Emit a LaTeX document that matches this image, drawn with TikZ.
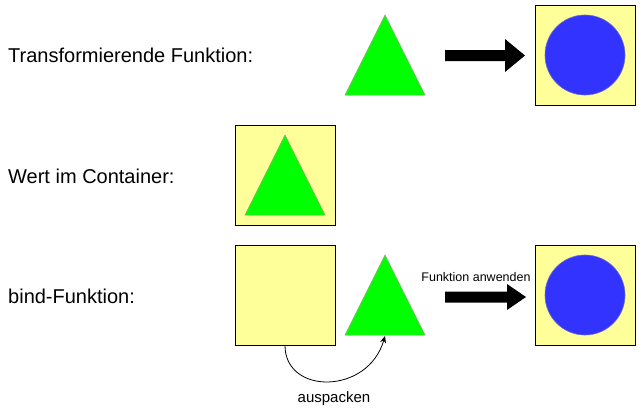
\documentclass[tikz,border=0pt]{standalone}
\usepackage{fontspec}
\setmainfont{Liberation Sans}
\usetikzlibrary{arrows.meta}
\definecolor{boxfill}{RGB}{255,255,153}
\definecolor{trifill}{RGB}{0,255,0}
\definecolor{tristroke}{RGB}{130,179,102}
\definecolor{circfill}{RGB}{51,51,255}
\definecolor{circstroke}{RGB}{110,110,200}
\begin{document}
\begin{tikzpicture}[x=1pt,y=-1pt,
  container/.style={draw=black,line width=1pt,fill=boxfill},
  tri/.style={fill=trifill,draw=tristroke,line width=0.5pt},
  circ/.style={fill=circfill,draw=circstroke,line width=0.6pt},
  biglabel/.style={anchor=base west,inner sep=0pt,font=\fontsize{20}{24}\selectfont},
  smalllabel/.style={anchor=base,inner sep=0pt,font=\fontsize{12.5}{15}\selectfont},
  midlabel/.style={anchor=base,inner sep=0pt,font=\fontsize{15}{18}\selectfont},
  fatarrow/.style={fill=black}
]
\useasboundingbox (0,0) rectangle (641,410);

% labels
\node[biglabel] (l1) at (8,62) {Transformierende Funktion:};
\node[biglabel] (l2) at (8,183) {Wert im Container:};
\node[biglabel] (l3) at (8,303) {bind-Funktion:};

% row 1
\path[tri] (345,95) -- (385,15) -- (425,95) -- cycle;
\path[fatarrow] (445,50) -- (505,50) -- (505,39) -- (525,55.5) -- (505,72) -- (505,61) -- (445,61) -- cycle;
\path[container] (535,5) rectangle (635,105);
\path[circ] (585,55) circle (40);

% row 2
\path[container] (235,125) rectangle (335,225);
\path[tri] (245,215) -- (285,135) -- (325,215) -- cycle;

% row 3
\node[container,minimum width=100pt,minimum height=100pt,inner sep=0pt] (box) at (285,295) {};
\path[tri] (345,335) -- (385,255) -- (425,335) -- cycle;
\coordinate (tribase) at (385,336);
\path[fatarrow] (445,291.5) -- (507,291.5) -- (507,284) -- (526,297) -- (507,310) -- (507,302.5) -- (445,302.5) -- cycle;
\node[smalllabel] (fa) at (476,281) {Funktion anwenden};
\path[container] (535,245) rectangle (635,345);
\path[circ] (585,295) circle (40);

% unpack arrow
\draw[line width=0.8pt,-{Stealth[length=7pt,width=6pt]}] (box.south) .. controls (285,395) and (368,395) .. (tribase);
\node[midlabel] (aus) at (334,402) {auspacken};
\end{tikzpicture}
\end{document}
